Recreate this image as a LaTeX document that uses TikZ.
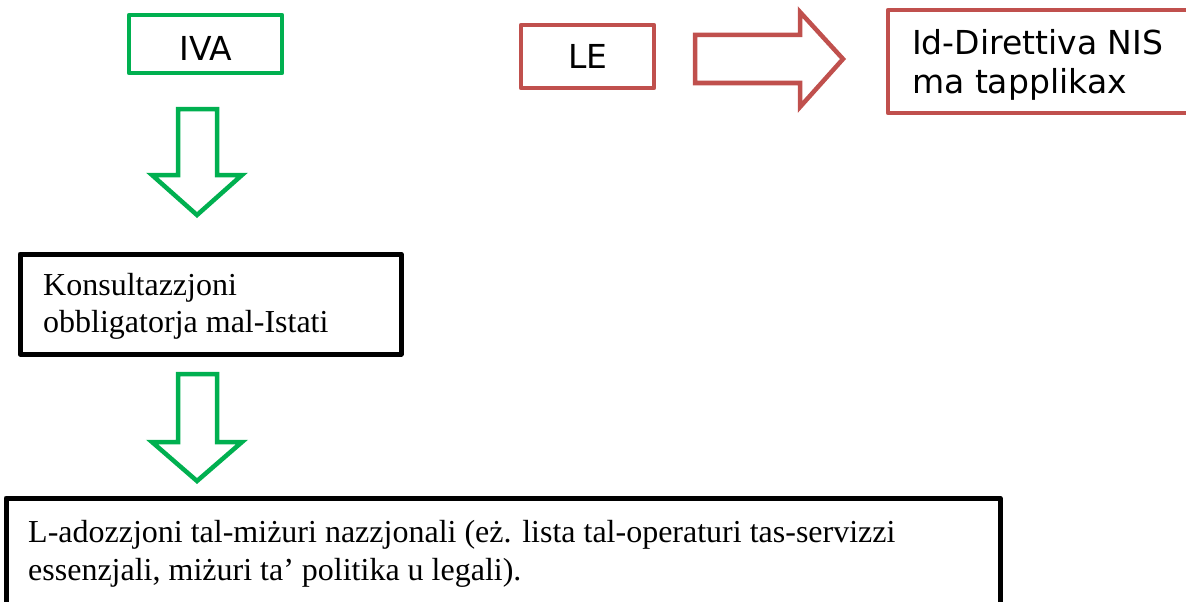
\documentclass[tikz,border=0pt]{standalone}
\usepackage{fontspec}
\setmainfont{Liberation Serif}
\newfontfamily\vsans{DejaVu Sans}
\definecolor{okgreen}{HTML}{00B050}
\definecolor{okred}{HTML}{C0504D}
\begin{document}
\begin{tikzpicture}[x=1pt,y=-1pt,
  gbox/.style={draw=okgreen,line width=4.5pt,line join=round},
  rbox/.style={draw=okred,line width=4.5pt,line join=round},
  kbox/.style={draw=black,line width=5pt,line join=round},
  garrow/.style={draw=okgreen,line width=4.5pt,line join=miter,fill=white},
  rarrow/.style={draw=okred,line width=4.5pt,line join=miter,fill=white},
  stxt/.style={font=\vsans\fontsize{33}{38}\selectfont,inner sep=0pt},
  rtxt/.style={font=\fontsize{32}{37}\selectfont,inner sep=0pt}]
\useasboundingbox (0,0) rectangle (1186,602);
% boxes
\draw[gbox] (129,15) rectangle (282,73);
\draw[rbox] (521,25) rectangle (654,88);
\draw[rbox] (888,10) rectangle (1200,113);
\draw[kbox] (20,254) rectangle (401,354);
\draw[kbox] (6,498) rectangle (1000,620);
% texts
\node[stxt,anchor=base] (iva) at (206,61) {IVA};
\node[stxt,anchor=base] (le) at (588,69) {LE};
\node[stxt,anchor=base west] (nis1) at (912,55) {Id-Direttiva NIS};
\node[stxt,anchor=base west] (nis2) at (912,93) {ma tapplikax};
\node[rtxt,anchor=base west] (kon1) at (43,295) {Konsultazzjoni};
\node[rtxt,anchor=base west] (kon2) at (43,332) {obbligatorja mal-Istati};
\node[rtxt,anchor=base west] (ado1) at (28,542) {L-adozzjoni tal-miżuri nazzjonali (eż. lista tal-operaturi tas-servizzi};
\node[rtxt,anchor=base west] (ado2) at (28,580) {essenzjali, miżuri ta’ politika u legali).};
% block arrows
\draw[garrow] (178,109) -- (217,109) -- (217,175) -- (242,175) -- (197,215) -- (152,175) -- (178,175) -- cycle;
\draw[garrow] (178,374) -- (217,374) -- (217,442) -- (242,442) -- (197,481) -- (152,442) -- (178,442) -- cycle;
\draw[rarrow] (695,35) -- (800,35) -- (800,12) -- (843,59) -- (800,107) -- (800,83) -- (695,83) -- cycle;
\end{tikzpicture}
\end{document}
